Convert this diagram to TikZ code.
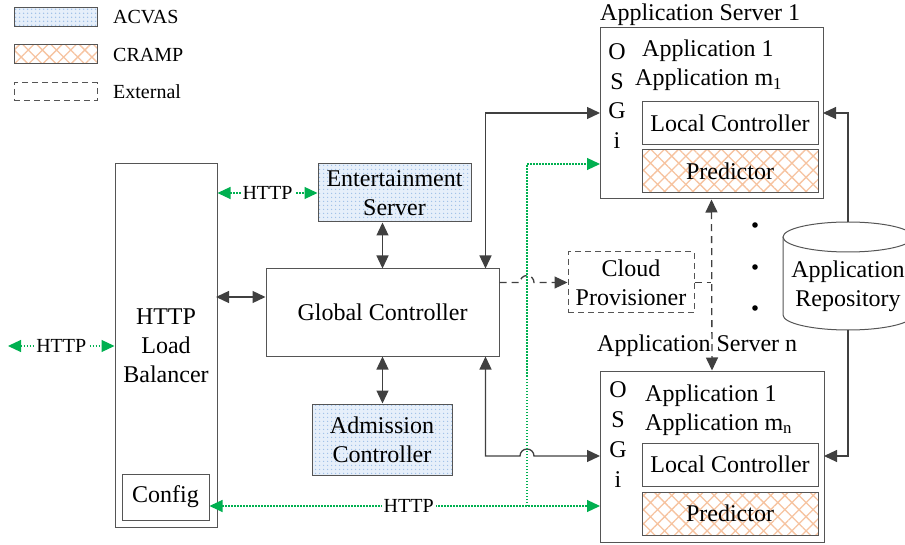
\documentclass[tikz,border=0pt]{standalone}
\usepackage{fontspec}
\setmainfont{Liberation Serif}
\usetikzlibrary{arrows.meta,patterns.meta,calc}
\definecolor{linec}{HTML}{404040}
\definecolor{boxc}{HTML}{555555}
\definecolor{grn}{HTML}{00B050}
\definecolor{acvbg}{HTML}{E6EFFA}
\definecolor{acvdot}{HTML}{9CBEE8}
\definecolor{crc}{HTML}{F6C3A0}
\newcommand\bigf{\fontsize{24}{29}\selectfont}
\newcommand\smf{\fontsize{20}{24}\selectfont}
\tikzset{
  >={Triangle[length=13pt,width=12pt]},
  box/.style={draw=boxc, line width=1pt, inner sep=0pt, align=center, font=\bigf},
  acvas/.style={box, preaction={fill=acvbg}, pattern={Dots[distance=4pt,radius=0.9pt]}, pattern color=acvdot},
  cramp/.style={box, pattern={Hatch[angle=45,distance=10pt,line width=1.3pt]}, pattern color=crc},
  extbox/.style={box, dash pattern=on 6pt off 4pt},
  txt/.style={inner sep=0pt, font=\bigf},
  stxt/.style={inner sep=0pt, font=\smf},
  conn/.style={draw=linec, line width=1.3pt},
  dconn/.style={conn, dash pattern=on 7pt off 5pt},
  gline/.style={draw=grn, line width=1.2pt, dash pattern=on 1.5pt off 1.5pt},
  glabel/.style={stxt, fill=white, inner xsep=2pt},
}
\begin{document}
\begin{tikzpicture}[x=1pt,y=-1pt]
\useasboundingbox (0,0) rectangle (905,545);

% legend
\node[acvas, minimum width=83pt, minimum height=19pt] (lgA) at (55.5,17.5) {};
\node[stxt, anchor=west] (lgAt) at (113,17.5) {ACVAS};
\node[cramp, minimum width=83pt, minimum height=19pt] (lgC) at (55.5,54.5) {};
\node[stxt, anchor=west] (lgCt) at (113,54.5) {CRAMP};
\node[extbox, minimum width=83pt, minimum height=18pt] (lgE) at (55.5,92) {};
\node[stxt, anchor=west] (lgEt) at (113,92) {External};

% left side
\node[box, minimum width=102pt, minimum height=363pt] (lb) at (166,345.5) {HTTP\\Load\\Balancer};
\node[box, minimum width=87pt, minimum height=46pt] (cfg) at (165.5,497) {Config};
\node[acvas, minimum width=153pt, minimum height=58pt] (es) at (394.5,193) {Entertainment\\Server};
\node[box, minimum width=233pt, minimum height=87pt] (gc) at (382.5,312.5) {Global Controller};
\node[acvas, minimum width=140pt, minimum height=71pt] (ac) at (382,439.5) {Admission\\Controller};
\node[extbox, minimum width=126pt, minimum height=61pt] (cp) at (631,282.5) {Cloud\\Provisioner};

% application server 1
\node[box, minimum width=223pt, minimum height=171pt] (as1) at (711.5,113.5) {};
\node[txt, anchor=base west] (as1t) at (600,21) {Application Server 1};
\node[txt, anchor=base] (as1o) at (617,60) {O};
\node[txt, anchor=base] (as1s) at (617,89.5) {S};
\node[txt, anchor=base] (as1g) at (617,119) {G};
\node[txt, anchor=base] (as1i) at (617,148.5) {i};
\node[txt, anchor=base west] (as1a) at (642,57) {Application 1};
\node[txt, anchor=base west] (as1m) at (635,86) {Application m\textsubscript{1}};
\node[box, minimum width=176pt, minimum height=43pt] (lc1) at (730,123.5) {Local Controller};
\node[cramp, minimum width=176pt, minimum height=43pt] (pr1) at (730,171.5) {Predictor};

% application server n
\node[box, minimum width=224pt, minimum height=171pt] (asn) at (712,456.5) {};
\node[txt, anchor=base west] (asnt) at (597,352) {Application Server n};
\node[txt, anchor=base] (asno) at (618,397) {O};
\node[txt, anchor=base] (asns) at (618,427) {S};
\node[txt, anchor=base] (asng) at (618,457) {G};
\node[txt, anchor=base] (asni) at (618,487) {i};
\node[txt, anchor=base west] (asna) at (645,401) {Application 1};
\node[txt, anchor=base west] (asnm) at (645,430) {Application m\textsubscript{n}};
\node[box, minimum width=176pt, minimum height=43pt] (lcn) at (730,464.5) {Local Controller};
\node[cramp, minimum width=176pt, minimum height=43pt] (prn) at (730,513.5) {Predictor};

% dots
\fill[black] (755,225) circle (2.8pt);
\fill[black] (755,267) circle (2.8pt);
\fill[black] (755,308) circle (2.8pt);

% application repository (cylinder)
\draw[boxc, line width=1pt, fill=white] (783,237) -- (783,315)
   arc[start angle=180, end angle=360, x radius=65pt, y radius=15pt] -- (913,237);
\draw[boxc, line width=1pt, fill=white] (848,237) ellipse [x radius=65pt, y radius=15pt];
\node[txt, align=center] (repo) at (848,286) {Application\\Repository};
\coordinate (repoT) at (848,222);
\coordinate (repoB) at (848,330);

% coordinates
\coordinate (httpL) at (8,346);
\coordinate (lbgc) at (216,297);
\coordinate (as1in) at (600,113);
\coordinate (asnin) at (600,456);
\coordinate (gbr) at (527,506);
\coordinate (as1gr) at (600,164);
\coordinate (asngr) at (600,506);
\coordinate (as1r) at (823,113);
\coordinate (asnr) at (824,456);
\coordinate (cpj) at (711,282.5);

% connectors
\draw[gline, <->] (httpL) -- node[glabel] {HTTP} (httpL -| lb.west);
\draw[gline, <->] (es.west -| lb.east) -- node[glabel] {HTTP} (es.west);
\draw[conn, <->] (lbgc) -- (lbgc -| gc.west);
\draw[conn, <->] (gc.north) -- (gc.north |- es.south);
\draw[conn, <->] (gc.south) -- (gc.south |- ac.north);
\draw[conn, <->] ([xshift=-14pt]gc.north east) |- (as1in);
\draw[conn, <->] ([xshift=-14pt]gc.south east) -- ([xshift=-14pt]gc.south east |- asnin)
   -- ($(gbr |- asnin)+(-7,0)$) arc[start angle=180, end angle=0, radius=7pt] -- (asnin);
\draw[dconn, ->] (cp.west -| gc.east) -- ($(gbr |- cp.west)+(-7,0)$)
   arc[start angle=180, end angle=0, radius=7pt] -- (cp.west);
\draw[dconn] (cp.east) -- (cpj);
\draw[dconn, <->] (as1.south) -- (asn.north);
\draw[gline, <->] (asngr -| cfg.east) -- node[glabel, pos=0.51] {HTTP} (asngr);
\draw[gline, ->] (gbr) |- (as1gr);
\draw[conn, ->, line width=1.1pt] (repoT) |- (as1r);
\draw[conn, ->, line width=1.1pt] (repoB) |- (asnr);
\end{tikzpicture}
\end{document}
